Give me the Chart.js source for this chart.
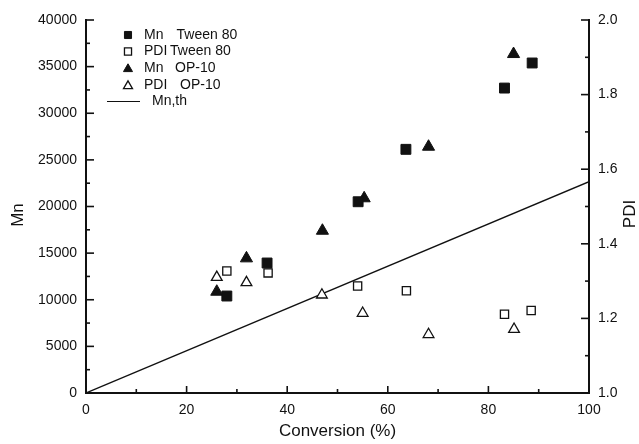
<!DOCTYPE html>
<html>
<head>
<meta charset="utf-8">
<script src="https://cdn.jsdelivr.net/npm/chart.js@4/dist/chart.umd.min.js"></script>
<style>
  html,body{ margin:0; padding:0; background:#fff; }
  #wrap{ width:639px; height:444px; position:relative; }
</style>
</head>
<body>
<div id="wrap"><canvas id="chartMn"></canvas></div>
<script>
// values
const convMnTween = [28.0, 36.0, 54.1, 63.6, 83.2, 88.7];
const mnTween     = [10400, 13940, 20510, 26130, 32700, 35390];
const convPdiTween = [28.0, 36.2, 54.0, 63.7, 83.2, 88.5];
const pdiTween     = [1.327, 1.322, 1.287, 1.274, 1.211, 1.221];
const convMnOP = [26.0, 31.9, 47.0, 55.3, 68.1, 85.0];
const mnOP     = [10860, 14440, 17400, 20880, 26410, 36350];
const convPdiOP = [26.0, 31.9, 46.9, 55.0, 68.1, 85.1];
const pdiOP     = [1.310, 1.296, 1.263, 1.214, 1.157, 1.171];
const theoryConv = [0, 100];
const theoryMn   = [0, 22660];

const xTicks  = [0, 20, 40, 60, 80, 100];
const mnTicks = [0, 5000, 10000, 15000, 20000, 25000, 30000, 35000, 40000];
const pdiTicks = [1.0, 1.2, 1.4, 1.6, 1.8, 2.0];

const legendRows = [
  ["Mn", "Tween 80"],
  ["PDI", "Tween 80"],
  ["Mn", "OP-10"],
  ["PDI", "OP-10"],
  ["Mn,th", ""],
];

const INK = "#111";
const FONT = "'Liberation Sans', Arial, sans-serif";

const pts = (xs, ys) => xs.map((x,i)=>({ x, y: ys[i] }));

// inward major/minor ticks like the original plot
const tickPlugin = {
  id:"inTicks",
  afterDraw(chart){
    const { ctx, chartArea:a } = chart;
    ctx.save();
    ctx.strokeStyle = INK; ctx.lineWidth = 1.6;
    const draw = (scale, vals, len, side) => {
      vals.forEach(v=>{
        const p = scale.getPixelForValue(v);
        ctx.beginPath();
        if(side==="x"){ ctx.moveTo(p, a.bottom); ctx.lineTo(p, a.bottom - len); }
        else if(side==="l"){ ctx.moveTo(a.left, p); ctx.lineTo(a.left + len, p); }
        else { ctx.moveTo(a.right, p); ctx.lineTo(a.right - len, p); }
        ctx.stroke();
      });
    };
    const mids = arr => arr.slice(1).map((v,i)=>(v+arr[i])/2);
    draw(chart.scales.x, xTicks, 7, "x");
    draw(chart.scales.x, mids(xTicks), 4, "x");
    draw(chart.scales.y, mnTicks, 8, "l");
    draw(chart.scales.y, mids(mnTicks), 4, "l");
    draw(chart.scales.y2, pdiTicks, 8, "r");
    draw(chart.scales.y2, mids(pdiTicks), 4, "r");

    // y titles, both read bottom-to-top
    ctx.fillStyle = INK;
    ctx.font = "17px " + FONT;
    ctx.textAlign = "center"; ctx.textBaseline = "middle";
    [["Mn", 18, 215], ["PDI", 630, 214]].forEach(([t, x, y])=>{
      ctx.save(); ctx.translate(x, y); ctx.rotate(-Math.PI/2); ctx.fillText(t, 0, 0); ctx.restore();
    });
    ctx.restore();
  }
};

const legendPlugin = {
  id:"insetLegend",
  afterDraw(chart){
    const { ctx } = chart;
    const rowY = [35, 51.5, 68, 85, 101.5];
    const secondX = [176.5, 170, 175, 180, 0];
    ctx.save();
    ctx.font = "14px " + FONT;
    ctx.fillStyle = INK; ctx.textBaseline = "middle"; ctx.textAlign = "left";
    chart.data.datasets.forEach((ds, i)=>{
      const y = rowY[i];
      if(ds.showLine){
        ctx.strokeStyle = INK; ctx.lineWidth = 1.2;
        ctx.beginPath(); ctx.moveTo(107, y); ctx.lineTo(140, y); ctx.stroke();
        ctx.fillText(legendRows[i][0], 152, y);
      } else {
        ctx.strokeStyle = INK; ctx.fillStyle = ds.pointBackgroundColor; ctx.lineWidth = ds.pointBorderWidth;
        Chart.helpers.drawPoint(ctx, { pointStyle: ds.pointStyle, radius: ds.pointStyle==="rect" ? 5 : 5.2, rotation:0, borderWidth: ds.pointBorderWidth }, 128, y + (ds.pointStyle==="triangle" ? 1 : 0));
        ctx.fillStyle = INK;
        ctx.fillText(legendRows[i][0], 144, y);
        ctx.fillText(legendRows[i][1], secondX[i], y);
      }
    });
    ctx.restore();
  }
};

function makeChart(id, config){
  const el = document.getElementById(id);
  if(!el || typeof Chart === "undefined") return;
  return new Chart(el, config);
}

const tickFont = { family:FONT, size:14 };
const axisBase = { grid:{ display:false, drawTicks:false }, border:{ display:true, color:INK, width:2 } };

makeChart("chartMn", {
  type:"scatter",
  data:{ datasets:[
    { label:"Mn Tween 80", data:pts(convMnTween, mnTween), yAxisID:"y", pointStyle:"rect", pointRadius:7, pointBackgroundColor:INK, pointBorderColor:INK, pointBorderWidth:1 },
    { label:"PDI Tween 80", data:pts(convPdiTween, pdiTween), yAxisID:"y2", pointStyle:"rect", pointRadius:5.8, pointBackgroundColor:"#fff", pointBorderColor:INK, pointBorderWidth:1.3 },
    { label:"Mn OP-10", data:pts(convMnOP, mnOP), yAxisID:"y", pointStyle:"triangle", pointRadius:7, pointBackgroundColor:INK, pointBorderColor:INK, pointBorderWidth:1 },
    { label:"PDI OP-10", data:pts(convPdiOP, pdiOP), yAxisID:"y2", pointStyle:"triangle", pointRadius:6.2, pointBackgroundColor:"#fff", pointBorderColor:INK, pointBorderWidth:1.3 },
    { label:"Mn,th", data:pts(theoryConv, theoryMn), yAxisID:"y", showLine:true, borderColor:INK, borderWidth:1.3, pointRadius:0 },
  ]},
  options:{
    responsive:true, maintainAspectRatio:false, animation:false,
    layout:{ padding:{ top:20, left:0, right:0, bottom:0 } },
    plugins:{ legend:{ display:false }, tooltip:{ enabled:false } },
    scales:{
      x:{ ...axisBase, type:"linear", min:0, max:100,
        ticks:{ stepSize:20, color:INK, font:tickFont, padding:9, maxRotation:0, callback:v=>String(v) },
        title:{ display:true, text:"Conversion (%)", color:INK, font:{ family:FONT, size:17 }, padding:{ top:0, bottom:2 } },
        afterFit(s){ s.height = 51; } },
      y:{ ...axisBase, type:"linear", position:"left", min:0, max:40000,
        ticks:{ stepSize:5000, color:INK, font:tickFont, padding:9, callback:v=>String(v) },
        afterFit(s){ s.width = 86; } },
      y2:{ ...axisBase, type:"linear", position:"right", min:1, max:2,
        ticks:{ stepSize:0.2, color:INK, font:tickFont, padding:9, callback:v=>v.toFixed(1) },
        afterFit(s){ s.width = 50; } },
    }
  },
  plugins:[tickPlugin, legendPlugin]
});
</script>
</body>
</html>
